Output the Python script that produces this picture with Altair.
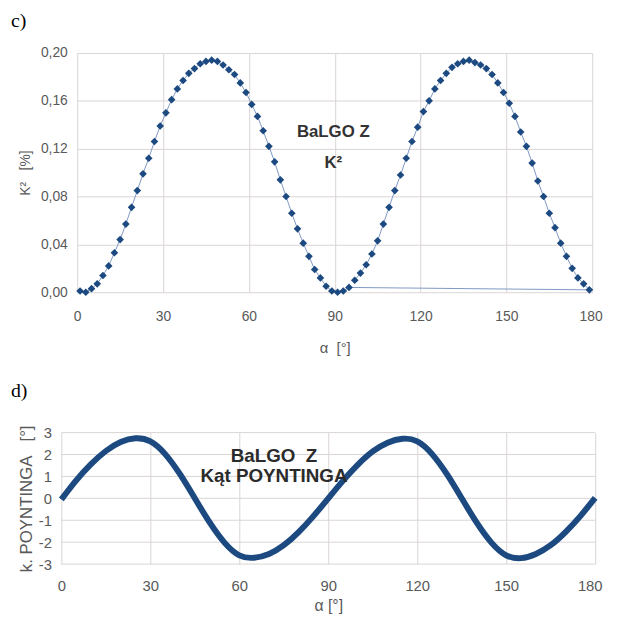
import altair as alt
import pandas as pd

# ---------------- data ----------------
alpha_k2 = list(range(1, 180, 2))
k2_values = [
    0.001, 0.000, 0.003, 0.007, 0.014, 0.022, 0.033, 0.044, 0.057, 0.071,
    0.085, 0.099, 0.112, 0.126, 0.139, 0.150, 0.161, 0.170, 0.177, 0.183,
    0.187, 0.191, 0.193, 0.194, 0.193, 0.190, 0.186, 0.182, 0.175, 0.167,
    0.157, 0.147, 0.135, 0.122, 0.109, 0.094, 0.080, 0.066, 0.053, 0.041,
    0.030, 0.019, 0.012, 0.005, 0.001, 0.000, 0.001, 0.004, 0.010, 0.016,
    0.023, 0.032, 0.043, 0.057, 0.071, 0.085, 0.098, 0.112, 0.126, 0.138,
    0.151, 0.160, 0.170, 0.177, 0.183, 0.188, 0.191, 0.193, 0.194, 0.192,
    0.190, 0.187, 0.182, 0.175, 0.167, 0.158, 0.147, 0.134, 0.122, 0.108,
    0.093, 0.080, 0.066, 0.054, 0.041, 0.030, 0.020, 0.012, 0.007, 0.002,
]
# drawing order of the connecting line (the series jumps from 95° to 179°)
k2_order = [a if a <= 95 else 400 - a for a in alpha_k2]

alpha_p = list(range(0, 181, 5))
poynting_values = [
    -0.05, 0.82, 1.56, 2.16, 2.57, 2.74, 2.60, 2.02, 1.10, 0.00,
    -1.10, -2.02, -2.60, -2.71, -2.54, -2.14, -1.54, -0.81, 0.00,
    0.81, 1.54, 2.14, 2.54, 2.72, 2.60, 2.02, 1.10, 0.00, -1.10,
    -2.02, -2.60, -2.73, -2.54, -2.14, -1.54, -0.81, 0.02,
]

x_ticks = [0, 30, 60, 90, 120, 150, 180]
k2_ticks = [0.0, 0.04, 0.08, 0.12, 0.16, 0.20]
p_ticks = [-3, -2, -1, 0, 1, 2, 3]

NB = "\u00a0"  # non-breaking space (SVG collapses ordinary repeated spaces)

top_notes_alpha = [89.5, 89.5]
top_notes_val = [0.134, 0.108]
top_notes_text = ["BaLGO Z", "K²"]

bot_notes_alpha = [71.7, 71.7]
bot_notes_val = [1.93, 1.03]
bot_notes_text = ["BaLGO" + NB + NB + "Z", "Kąt POYNTINGA"]

# ---------------- styling ----------------
FONT = "Liberation Sans"
GRID = "#dbd5d5"
LABEL = "#595959"
BLUE = "#1c4a80"
LINE = "#7f98c4"

df_k = pd.DataFrame({"alpha": alpha_k2, "k2": k2_values, "order": k2_order})
df_p = pd.DataFrame({"alpha": alpha_p, "pz": poynting_values})
df_pg = pd.DataFrame({"pz": p_ticks})
df_tn = pd.DataFrame({"alpha": top_notes_alpha, "k2": top_notes_val, "txt": top_notes_text})
df_bn = pd.DataFrame({"alpha": bot_notes_alpha, "pz": bot_notes_val, "txt": bot_notes_text})

LAST = "datum.value == 180"


def last_label(offset):
    # keep the final "180" label inside the page width
    return dict(
        labelAlign={"condition": {"test": LAST, "value": "right"}, "value": "center"},
        labelOffset={"condition": {"test": LAST, "value": offset}, "value": 0},
    )


def axis(values, title, lsize, tsize, lpad, tpad, label_expr=None, **extra):
    kw = dict(
        values=values, tickCount=len(values), title=title, grid=True,
        gridColor=GRID, gridWidth=1, domain=False, ticks=False, tickSize=0,
        labelFont=FONT, labelFontSize=lsize, labelColor=LABEL, labelPadding=lpad,
        labelFlush=False, labelOverlap=False,
        titleFont=FONT, titleFontSize=tsize, titleColor=LABEL,
        titleFontWeight="normal", titlePadding=tpad,
    )
    if label_expr:
        kw["labelExpr"] = label_expr
    kw.update(extra)
    return alt.Axis(**kw)


# ---------------- chart c) ----------------
xk = alt.X("alpha:Q", scale=alt.Scale(domain=[0, 180], nice=False),
           axis=axis(x_ticks, "α" + NB + NB + "[°]", 14, 15, 18, 17, **last_label(10)))
yk = alt.Y("k2:Q", scale=alt.Scale(domain=[0, 0.2], nice=False),
           axis=axis(k2_ticks, "K²" + NB + NB + NB + "[%]", 14, 14, 10, 8,
                     "replace(format(datum.value, '.2f'), '.', ',')"))

k_line = alt.Chart(df_k).mark_line(color=LINE, strokeWidth=1).encode(
    x=xk, y=yk, order="order:Q")
k_pts = alt.Chart(df_k).mark_point(shape="diamond", filled=True, size=60,
                                   color=BLUE, opacity=1).encode(x="alpha:Q", y="k2:Q")
k_txt = alt.Chart(df_tn).mark_text(font=FONT, fontSize=17, fontWeight="bold",
                                   color="#333333").encode(x="alpha:Q", y="k2:Q", text="txt:N")

top = alt.layer(k_line, k_pts, k_txt).properties(
    width=521, height=242,
    title=alt.TitleParams("c)", anchor="start", frame="group", dx=-67, offset=15,
                          font="Liberation Serif", fontSize=20, fontWeight="normal",
                          color="black"),
)

# ---------------- chart d) ----------------
# plot origin is shared with chart c); this panel's data area starts 16 px further left
xp = alt.X("alpha:Q", scale=alt.Scale(domain=[0, 180], nice=False, range=[-16, 524]),
           axis=axis(x_ticks, "α [°]", 15, 16, 15, 4, titleX=254, **last_label(7)))
yp = alt.Y("pz:Q", scale=alt.Scale(domain=[-3, 3], nice=False),
           axis=axis(p_ticks, "k. POYNTINGA" + NB + NB + NB + "[°]", 15, 17, 10, 3,
                     "'' + datum.value", grid=False, offset=16))

p_grid = alt.Chart(df_pg).mark_rule(color=GRID, strokeWidth=1).encode(
    y=yp, x=alt.value(-16), x2=alt.value(524))
p_line = alt.Chart(df_p).mark_line(color=BLUE, strokeWidth=6, interpolate="natural").encode(
    x=xp, y="pz:Q")
p_txt = alt.Chart(df_bn).mark_text(font=FONT, fontSize=19, fontWeight="bold",
                                   color="#2b2b2b").encode(x="alpha:Q", y="pz:Q", text="txt:N")

bottom = alt.layer(p_grid, p_line, p_txt).properties(
    width=524, height=133,
    title=alt.TitleParams("d)", anchor="start", frame="group", dx=-67, offset=24,
                          font="Liberation Serif", fontSize=20, fontWeight="normal",
                          color="black"),
)

chart = alt.ConcatChart(
    concat=[top, bottom], columns=1, spacing=26,
    padding={"left": 3, "top": 0, "right": 0, "bottom": 0},
).resolve_scale(x="independent", y="independent").configure_view(stroke=None)

chart.save("out.html", embed_options={"renderer": "svg", "actions": False})
